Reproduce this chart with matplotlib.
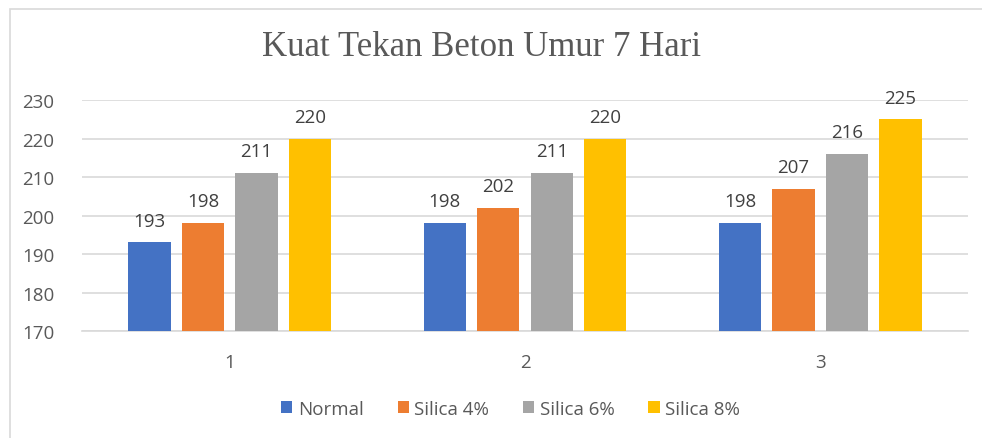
import numpy as np
import matplotlib
matplotlib.use('Agg')
import matplotlib.pyplot as plt
from matplotlib.patches import Rectangle

# data
categories = ['1', '2', '3']
series = ['Normal', 'Silica 4%', 'Silica 6%', 'Silica 8%']
normal = [193, 198, 198]
silica4 = [198, 202, 207]
silica6 = [211, 211, 216]
silica8 = [220, 220, 225]
colors = ['#4472C4', '#ED7D31', '#A5A5A5', '#FFC000']
yticks = [170, 180, 190, 200, 210, 220, 230]

W, H = 982, 439
fig = plt.figure(figsize=(W/100, H/100), dpi=100)
txt = '#595959'
fs = 13.5

# chart border
fig.patches.append(Rectangle((10/W, -0.1), 1.2, 1 - 10/H + 0.1, transform=fig.transFigure,
                             fill=False, edgecolor='#d9d9d9', linewidth=1.2))

ax = fig.add_axes([82/W, 1 - 332/H, 886/W, 231/H])
x = np.arange(len(categories))
bw = 0.143
step = 0.181
vals = [normal, silica4, silica6, silica8]
for i, (name, v) in enumerate(zip(series, vals)):
    off = (i - 1.5) * step
    ax.bar(x + off, np.array(v) - 170, bottom=170, width=bw, color=colors[i], label=name, zorder=3)
    for xi, yi in zip(x + off, v):
        ax.text(xi, yi + 3.3, str(yi), ha='center', va='bottom', fontsize=fs, color='#404040',
                family='Open Sans', clip_on=False)

ax.set_xlim(-0.5, 2.5)
ax.set_ylim(170, 230)
ax.set_yticks(yticks)
ax.set_xticks(x)
ax.set_xticklabels(categories)
ax.grid(axis='y', color='#d9d9d9', linewidth=1.2, zorder=0)
for s in ['top', 'right', 'left']:
    ax.spines[s].set_visible(False)
ax.spines['bottom'].set_color('#d9d9d9')
ax.spines['bottom'].set_linewidth(1.2)
ax.tick_params(length=0, labelsize=fs, labelcolor=txt)
ax.tick_params(axis='x', pad=16)
ax.tick_params(axis='y', pad=20)
for lb in ax.get_xticklabels() + ax.get_yticklabels():
    lb.set_family('Open Sans')

fig.text(482/W, 1 - 48/H, 'Kuat Tekan Beton Umur 7 Hari', ha='center', va='center',
         fontsize=25, color=txt, family='Liberation Serif')

leg = fig.legend(loc='center', bbox_to_anchor=(0.52, 1 - 410/H), ncol=4, frameon=False,
                 handlelength=0.6, handleheight=0.6, handletextpad=0.3, columnspacing=1.8,
                 prop={'family': 'Open Sans', 'size': fs})
for t in leg.get_texts():
    t.set_color(txt)

fig.savefig('out.png', dpi=100)
